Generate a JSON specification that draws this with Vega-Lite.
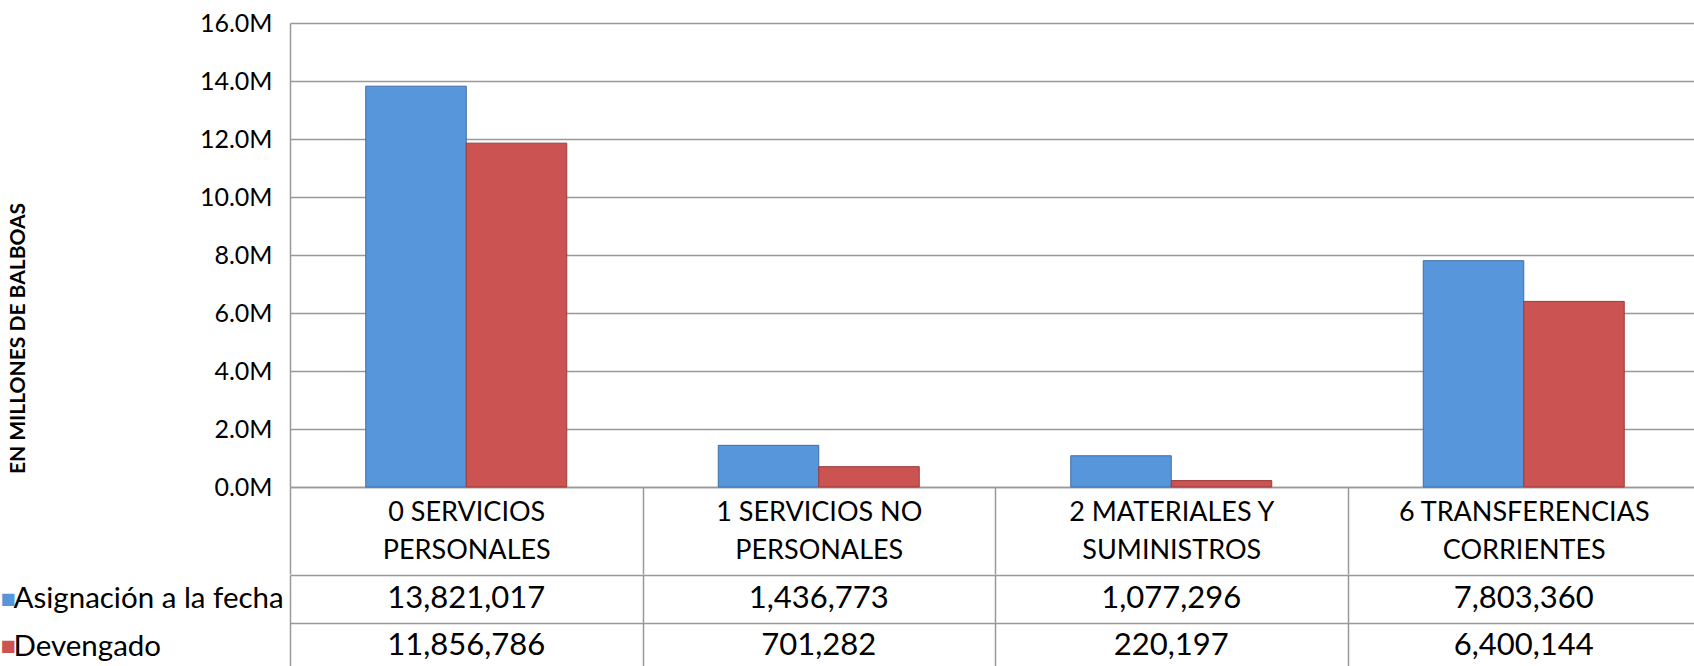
{
  "$schema": "https://vega.github.io/schema/vega-lite/v6.json",
  "padding": {"left": 0, "top": 11, "right": 0, "bottom": 0},
  "background": "white",
  "config": {"view": {"stroke": null}, "font": "Lato", "concat": {"spacing": 0}},
  "align": "all",
  "spacing": -15,
  "data": {"values": [
    {"cat": "0 SERVICIOS PERSONALES", "series": "Asignación a la fecha", "value": 13821017},
    {"cat": "0 SERVICIOS PERSONALES", "series": "Devengado", "value": 11856786},
    {"cat": "1 SERVICIOS NO PERSONALES", "series": "Asignación a la fecha", "value": 1436773},
    {"cat": "1 SERVICIOS NO PERSONALES", "series": "Devengado", "value": 701282},
    {"cat": "2 MATERIALES Y SUMINISTROS", "series": "Asignación a la fecha", "value": 1077296},
    {"cat": "2 MATERIALES Y SUMINISTROS", "series": "Devengado", "value": 220197},
    {"cat": "6 TRANSFERENCIAS CORRIENTES", "series": "Asignación a la fecha", "value": 7803360},
    {"cat": "6 TRANSFERENCIAS CORRIENTES", "series": "Devengado", "value": 6400144}
  ]},
  "vconcat": [
    {
      "width": 1410,
      "height": 464,
      "mark": {"type": "bar", "strokeWidth": 1},
      "encoding": {
        "x": {
          "field": "cat", "type": "nominal", "sort": null,
          "scale": {"paddingInner": 0, "paddingOuter": 0},
          "axis": {
            "title": null, "labelAngle": 0,
            "labelExpr": "[slice(datum.label, 0, lastindexof(datum.label, ' ')), slice(datum.label, lastindexof(datum.label, ' ') + 1)]",
            "labelFont": "Lato", "labelFontSize": 27, "labelColor": "#000", "labelLimit": 0,
            "labelLineHeight": 38, "labelBaseline": "top",
            "labelPadding": -75, "labelOverlap": false, "labelFlush": false, "labelBound": false,
            "tickBand": "extent", "tickSize": 87, "tickColor": "#999", "tickWidth": 1.5,
            "domainColor": "#999", "domainWidth": 1.5
          }
        },
        "xOffset": {
          "field": "series", "type": "nominal", "sort": ["Asignación a la fecha", "Devengado"],
          "scale": {"paddingInner": 0, "paddingOuter": 0.754}
        },
        "y": {
          "field": "value", "type": "quantitative",
          "scale": {"domain": [0, 16000000]},
          "axis": {
            "values": [0, 2000000, 4000000, 6000000, 8000000, 10000000, 12000000, 14000000, 16000000],
            "labelExpr": "format(datum.value / 1000000, '.1f') + 'M'",
            "labelFont": "Lato", "labelFontSize": 25, "labelColor": "#000", "labelPadding": 18,
            "ticks": false, "domain": true, "domainColor": "#999", "domainWidth": 1.5,
            "grid": true, "gridColor": "#999", "gridWidth": 1.5,
            "title": "EN MILLONES DE BALBOAS", "titleFont": "Lato", "titleFontWeight": "bold",
            "titleFontSize": 21, "titleColor": "#000",
            "titleX": -272, "titleY": 315, "titleAngle": 270, "titleAlign": "center", "titleBaseline": "middle"
          }
        },
        "color": {
          "field": "series", "type": "nominal",
          "scale": {"domain": ["Asignación a la fecha", "Devengado"], "range": ["#5896dc", "#cb5351"]},
          "legend": null
        },
        "stroke": {
          "field": "series", "type": "nominal",
          "scale": {"domain": ["Asignación a la fecha", "Devengado"], "range": ["#3d6ea8", "#9a3b39"]},
          "legend": null
        }
      }
    },
    {
      "width": 1410,
      "height": 95,
      "layer": [
        {
          "mark": {"type": "text", "font": "Lato", "fontSize": 31, "color": "#000"},
          "encoding": {
            "x": {
              "field": "cat", "type": "nominal", "sort": null,
              "scale": {"paddingInner": 0, "paddingOuter": 0},
              "axis": {"orient": "bottom", "labels": false, "ticks": false, "domain": false, "grid": true,
                       "tickBand": "extent", "gridColor": "#999", "gridWidth": 1.5, "title": null}
            },
            "y": {
              "field": "series", "type": "nominal", "sort": ["Asignación a la fecha", "Devengado"],
              "scale": {"paddingInner": 0, "paddingOuter": 0},
              "axis": {"orient": "left", "labelAlign": "left", "labelPadding": 277, "labelFont": "Lato",
                       "labelFontSize": 29.5, "labelColor": "#000", "labelBaseline": "middle", "labelLimit": 0,
                       "ticks": false, "domain": false, "grid": true, "tickBand": "extent",
                       "gridColor": "#999", "gridWidth": 1.5, "title": null}
            },
            "text": {"field": "value", "type": "quantitative", "format": ","}
          }
        },
        {
          "mark": {"type": "text", "text": ""},
          "encoding": {
            "y": {
              "field": "series", "type": "nominal", "sort": ["Asignación a la fecha", "Devengado"],
              "axis": {"orient": "left", "labelAlign": "left", "labelPadding": 290,
                       "labelFont": "DejaVu Sans", "labelFontSize": 16, "labelBaseline": "middle",
                       "labelExpr": "'■'", "labelLimit": 0,
                       "labelColor": {"condition": {"test": "datum.value === 'Devengado'", "value": "#cb5351"}, "value": "#5896dc"},
                       "ticks": false, "domain": false, "grid": false, "title": null}
            }
          }
        }
      ],
      "resolve": {"axis": {"y": "independent"}}
    }
  ]
}
